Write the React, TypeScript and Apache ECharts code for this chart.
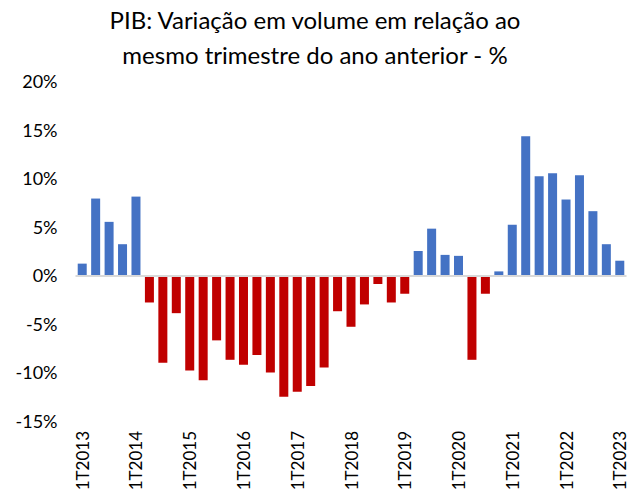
import React, { useEffect, useRef } from "react";
import * as echarts from "echarts";

const years = [2013, 2014, 2015, 2016, 2017, 2018, 2019, 2020, 2021, 2022, 2023];
const categories: string[] = [];
years.forEach((y) => {
  for (let q = 1; q <= 4; q++) {
    if (y === 2023 && q > 1) break;
    categories.push(`${q}T${y}`);
  }
});

const values = [
  1.2, 7.9, 5.5, 3.2,
  8.1, -2.8, -9.0, -3.9,
  -9.8, -10.8, -6.7, -8.7,
  -9.2, -8.2, -10.0, -12.5,
  -12.0, -11.4, -9.5, -3.7,
  -5.3, -3.0, -0.9, -2.8,
  -1.9, 2.5, 4.8, 2.1,
  2.0, -8.7, -1.9, 0.4,
  5.2, 14.3, 10.2, 10.5,
  7.8, 10.3, 6.6, 3.2,
  1.5,
];

const titleText = "PIB: Variação em volume em relação ao\nmesmo trimestre do ano anterior - %";
const posColor = "#4472C4";
const negColor = "#C00000";
const font = "Lato, 'Liberation Sans', sans-serif";

export default function App() {
  const ref = useRef<HTMLDivElement>(null);
  useEffect(() => {
    if (!ref.current) return;
    const chart = echarts.init(ref.current, null, { renderer: "svg" });
    chart.setOption({
      animation: false,
      textStyle: { fontFamily: font },
      title: {
        text: titleText,
        left: "center",
        top: 2,
        padding: 0,
        textStyle: {
          fontSize: 24,
          fontWeight: "normal",
          color: "#000",
          lineHeight: 35,
          fontFamily: font,
        },
      },
      grid: { left: 75.5, right: 3.5, top: 81, bottom: 77, containLabel: false },
      xAxis: {
        type: "category",
        data: categories,
        axisLine: { show: false, onZero: false },
        axisTick: { show: false },
        axisLabel: {
          interval: 3,
          rotate: 90,
          margin: 10,
          fontSize: 17,
          lineHeight: 14,
          color: "#000",
        },
      },
      yAxis: {
        type: "value",
        min: -15,
        max: 20,
        interval: 5,
        splitLine: { show: false },
        axisLine: { show: false },
        axisTick: { show: false },
        axisLabel: {
          formatter: "{value}%",
          fontSize: 18,
          color: "#000",
          margin: 18,
        },
      },
      series: [
        {
          type: "bar",
          data: values.map((v) => ({
            value: v,
            itemStyle: { color: v >= 0 ? posColor : negColor },
          })),
          barCategoryGap: "33%",
          markLine: {
            silent: true,
            symbol: "none",
            label: { show: false },
            lineStyle: { color: "#D9D9D9", width: 2, type: "solid" },
            data: [{ yAxis: 0 }],
          },
        },
      ],
    });
    return () => chart.dispose();
  }, []);
  return <div ref={ref} style={{ width: 630, height: 498, position: "absolute", left: 0, top: 0 }} />;
}
